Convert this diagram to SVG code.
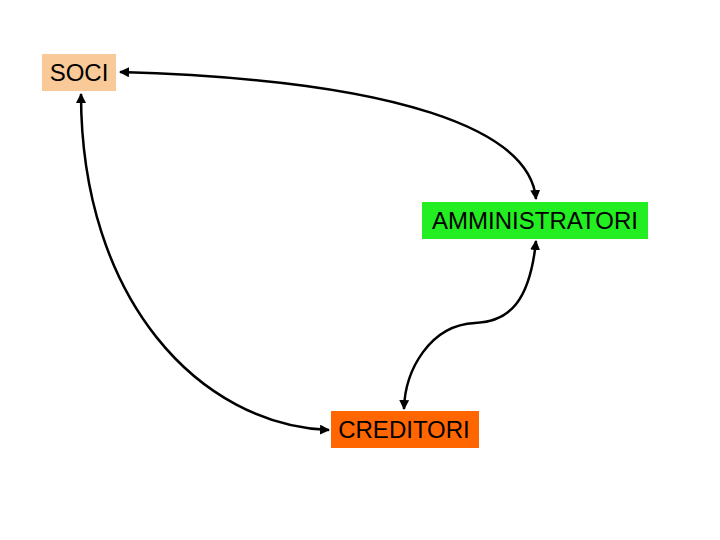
<svg xmlns="http://www.w3.org/2000/svg" width="720" height="540" viewBox="0 0 720 540">
<style>
.lbl{font-family:"Liberation Sans",Arial,sans-serif;font-size:24px;fill:#000;text-anchor:middle}
.conn{fill:none;stroke:#000;stroke-width:2.5;marker-start:url(#ah);marker-end:url(#ah)}
</style>
<defs>
<marker id="ah" viewBox="0 0 10 10" refX="9" refY="5" markerWidth="4" markerHeight="4" orient="auto-start-reverse">
<path d="M0,0 L10,5 L0,10 z" fill="#000"/>
</marker>
</defs>
<rect width="720" height="540" fill="#fff"/>
<g id="connectors">
<path class="conn" d="M120,72 C 400,80 530,130 536,199"/>
<path class="conn" d="M81,94 C 81,300 200,425 329,430"/>
<path class="conn" d="M536,241 C 530,300 510,322 475,323 C 430,325 405,370 404,409"/>
</g>
<g id="soci">
<rect x="42" y="54" width="74" height="37" fill="#F9C998"/>
<text class="lbl" x="79" y="81">SOCI</text>
</g>
<g id="amministratori">
<rect x="422" y="202" width="226" height="37" fill="#22EE22"/>
<text class="lbl" x="535" y="229">AMMINISTRATORI</text>
</g>
<g id="creditori">
<rect x="331" y="411" width="148" height="37" fill="#FF6600"/>
<text class="lbl" x="404" y="438">CREDITORI</text>
</g>
</svg>
